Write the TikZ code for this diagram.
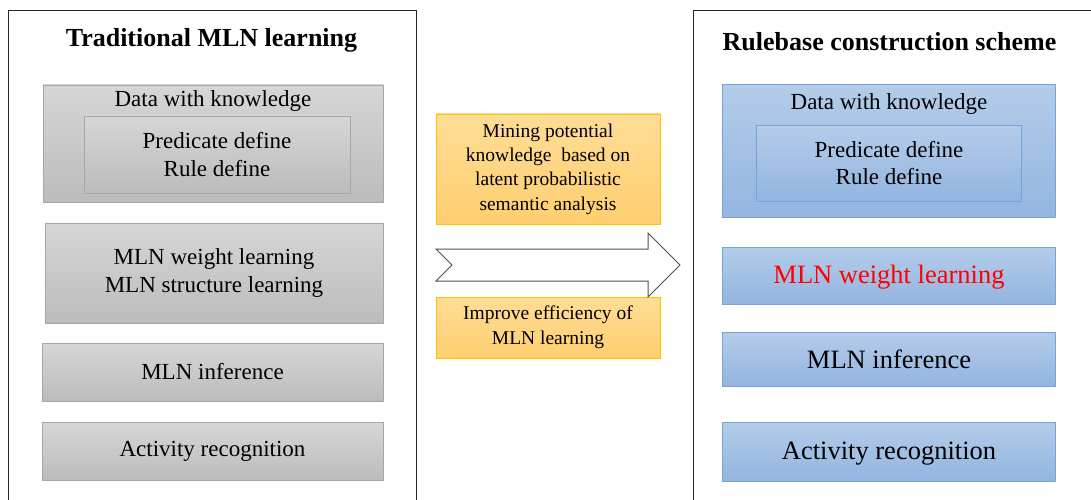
\documentclass[tikz,border=0pt]{standalone}
\usepackage{fontspec}
\setmainfont{Liberation Serif}
\definecolor{grayTop}{HTML}{D6D6D6}
\definecolor{grayBot}{HTML}{BCBCBC}
\definecolor{grayLine}{HTML}{A6A6A6}
\definecolor{blueTop}{HTML}{B4CCE9}
\definecolor{blueBot}{HTML}{93B5E0}
\definecolor{blueLine}{HTML}{74A4DA}
\definecolor{orTop}{HTML}{FFDC96}
\definecolor{orBot}{HTML}{FFCF70}
\definecolor{orLine}{HTML}{FFC000}
\definecolor{panelLine}{HTML}{262626}
\definecolor{arrowLine}{HTML}{505050}
\newcommand\lowerby[2]{\raisebox{-#1}[\height][\depth]{#2}}
\tikzset{
  panel/.style={draw=panelLine, line width=1pt},
  graybox/.style={draw=grayLine, line width=0.9pt, top color=grayTop, bottom color=grayBot, inner sep=0pt, align=center},
  bluebox/.style={draw=blueLine, line width=0.9pt, top color=blueTop, bottom color=blueBot, inner sep=0pt, align=center},
  orbox/.style={draw=orLine, line width=0.9pt, top color=orTop, bottom color=orBot, inner sep=0pt, align=center},
  titletext/.style={font=\fontsize{26}{30}\selectfont\bfseries, inner sep=0pt},
  smalltext/.style={font=\fontsize{23}{27.5}\selectfont},
  bigtext/.style={font=\fontsize{26.5}{31}\selectfont},
  ortext/.style={font=\fontsize{19.5}{24.3}\selectfont},
  ortexttwo/.style={font=\fontsize{19.5}{25}\selectfont},
  bigarrow/.style={draw=arrowLine, line width=1pt, fill=white, line join=miter}
}
\begin{document}
\begin{tikzpicture}[x=1pt, y=-1pt]
\useasboundingbox (0,0) rectangle (1091,500);
\fill[white] (0,0) rectangle (1091,500);
\begin{scope}
\clip (0,0) rectangle (1091,500);
\draw[panel] (8.5,11) rectangle (416.5,520);
\draw[panel] (693.5,11) rectangle (1110,520);
\end{scope}

% left panel
\node[titletext] (ltitle) at (211.5,40) {Traditional MLN learning};
\node[graybox, minimum width=340pt, minimum height=117pt] (ldata) at (213,143.5) {};
\node[smalltext, inner sep=0pt] (ldatatext) at (213,101) {Data with knowledge};
\node[graybox, smalltext, minimum width=266pt, minimum height=77pt] (ldef) at (217,154.5) {Predicate define\\Rule define};
\node[graybox, smalltext, minimum width=338pt, minimum height=100pt] (llearn) at (214,273) {MLN weight learning\\MLN structure learning};
\node[graybox, smalltext, minimum width=341pt, minimum height=58pt] (linf) at (212.5,372) {MLN inference};
\node[graybox, smalltext, minimum width=341pt, minimum height=58pt] (lact) at (212.5,451) {Activity recognition};

% middle
\node[orbox, ortext, minimum width=224pt, minimum height=110pt] (mine) at (548,169) {Mining potential\\knowledge\ \ based on\\latent probabilistic\\semantic analysis};
\node[orbox, ortexttwo, minimum width=224pt, minimum height=61pt] (improve) at (548,327.5) {Improve efficiency of\\MLN learning};
\coordinate (a1) at (436,249);
\coordinate (a2) at (648,249);
\coordinate (a3) at (648,233);
\coordinate (a4) at (680,265);
\coordinate (a5) at (648,297);
\coordinate (a6) at (648,281);
\coordinate (a7) at (436,281);
\coordinate (a8) at (452,265);
\draw[bigarrow] (a1) -- (a2) -- (a3) -- (a4) -- (a5) -- (a6) -- (a7) -- (a8) -- cycle;

% right panel
\node[titletext] (rtitle) at (889.5,42) {Rulebase construction scheme};
\node[bluebox, minimum width=333pt, minimum height=133pt] (rdata) at (889,151) {};
\node[smalltext, inner sep=0pt] (rdatatext) at (889,104) {Data with knowledge};
\node[bluebox, smalltext, minimum width=265pt, minimum height=76pt] (rdef) at (889,163) {Predicate define\\Rule define};
\node[bluebox, bigtext, text=red, minimum width=333pt, minimum height=57pt] (rlearn) at (889,275.5) {\lowerby{1.5pt}{MLN weight learning}};
\node[bluebox, bigtext, minimum width=333pt, minimum height=54pt] (rinf) at (889,359) {MLN inference};
\node[bluebox, bigtext, minimum width=333pt, minimum height=59pt] (ract) at (889,451.5) {\lowerby{2pt}{Activity recognition}};
\end{tikzpicture}
\end{document}
